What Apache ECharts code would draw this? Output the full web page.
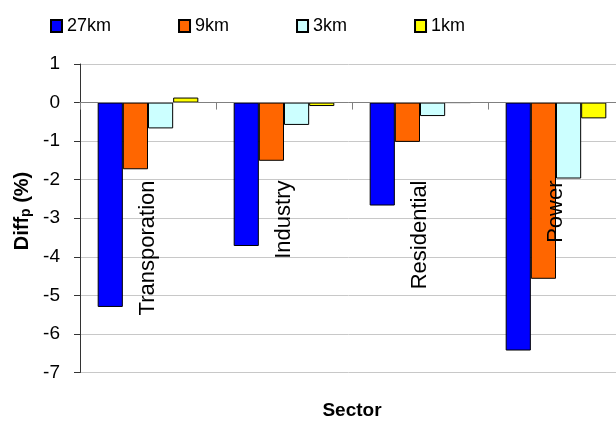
<!DOCTYPE html>
<html>
<head>
<meta charset="utf-8">
<script src="https://cdn.jsdelivr.net/npm/echarts@6/dist/echarts.min.js"></script>
<style>
  html, body { margin: 0; padding: 0; background: #fff; }
  #chart { width: 616px; height: 425px; }
</style>
</head>
<body>
<div id="chart"></div>
<script>
const sectors = ['Transporation', 'Industry', 'Residential', 'Power'];
const res27 = [-5.3, -3.72, -2.67, -6.43];
const res9 = [-1.73, -1.51, -1.02, -4.57];
const res3 = [-0.67, -0.58, -0.35, -1.97];
const res1 = [0.13, -0.09, 0, -0.41];
const yTicks = [1, 0, -1, -2, -3, -4, -5, -6, -7];

const FONT = 'Liberation Sans, Arial, sans-serif';

const SERIES = [
  { name: '27km', data: res27, color: '#0000ff' },
  { name: '9km', data: res9, color: '#ff6600' },
  { name: '3km', data: res3, color: '#ccffff' },
  { name: '1km', data: res1, color: '#ffff00' },
];

const chart = echarts.init(document.getElementById('chart'));

chart.setOption({
  backgroundColor: '#fff',
  animation: false,
  textStyle: { fontFamily: FONT },
  legend: {
    left: 45,
    top: 12,
    itemWidth: 11,
    itemHeight: 12,
    itemGap: 67,
    icon: 'rect',
    textStyle: { fontSize: 18, color: '#000', fontFamily: FONT },
    data: SERIES.map(s => s.name),
  },
  grid: {
    left: 80, top: 64, width: 544, height: 308.5,
    containLabel: false, outerBoundsMode: 'none',
  },
  xAxis: {
    type: 'category',
    data: sectors,
    z: 5,
    axisLine: { onZero: true, lineStyle: { color: '#808080', width: 1 } },
    axisTick: { show: true, length: 7, lineStyle: { color: '#808080' } },
    // labels are laid out from the grid bottom, so pull them back up under the zero line
    axisLabel: { rotate: 90, margin: -192, fontSize: 22, color: '#000', fontFamily: FONT },
    splitLine: { show: false },
  },
  yAxis: {
    type: 'value',
    min: yTicks[yTicks.length - 1],
    max: yTicks[0],
    interval: 1,
    axisLine: { show: true, lineStyle: { color: '#333', width: 1 } },
    axisTick: { show: true, length: 6, lineStyle: { color: '#333' } },
    axisLabel: { fontSize: 19, color: '#000', margin: 20, fontFamily: FONT },
    splitLine: { show: true, lineStyle: { color: '#c8c8c8', width: 1 } },
  },
  series: SERIES.map(s => ({
    name: s.name,
    type: 'bar',
    data: s.data,
    barGap: '0%',
    barCategoryGap: '26%',
    itemStyle: { color: s.color, borderColor: '#000', borderWidth: 1 },
  })),
  graphic: [
    {
      type: 'text',
      x: 22,
      y: 211,
      rotation: Math.PI / 2,
      style: {
        text: '{a|Diff}{b|p}{a| (%)}',
        align: 'center',
        verticalAlign: 'middle',
        rich: {
          a: { fontSize: 20, fontWeight: 'bold', fontFamily: FONT, fill: '#000', lineHeight: 22 },
          b: { fontSize: 14, fontWeight: 'bold', fontFamily: FONT, fill: '#000', lineHeight: 14, verticalAlign: 'bottom', padding: [6, 0, 0, 0] },
        },
      },
    },
    {
      type: 'text',
      x: 352,
      y: 411,
      style: {
        text: 'Sector',
        align: 'center',
        verticalAlign: 'middle',
        fontSize: 19,
        fontWeight: 'bold',
        fontFamily: FONT,
        fill: '#000',
      },
    },
  ],
});
</script>
</body>
</html>
